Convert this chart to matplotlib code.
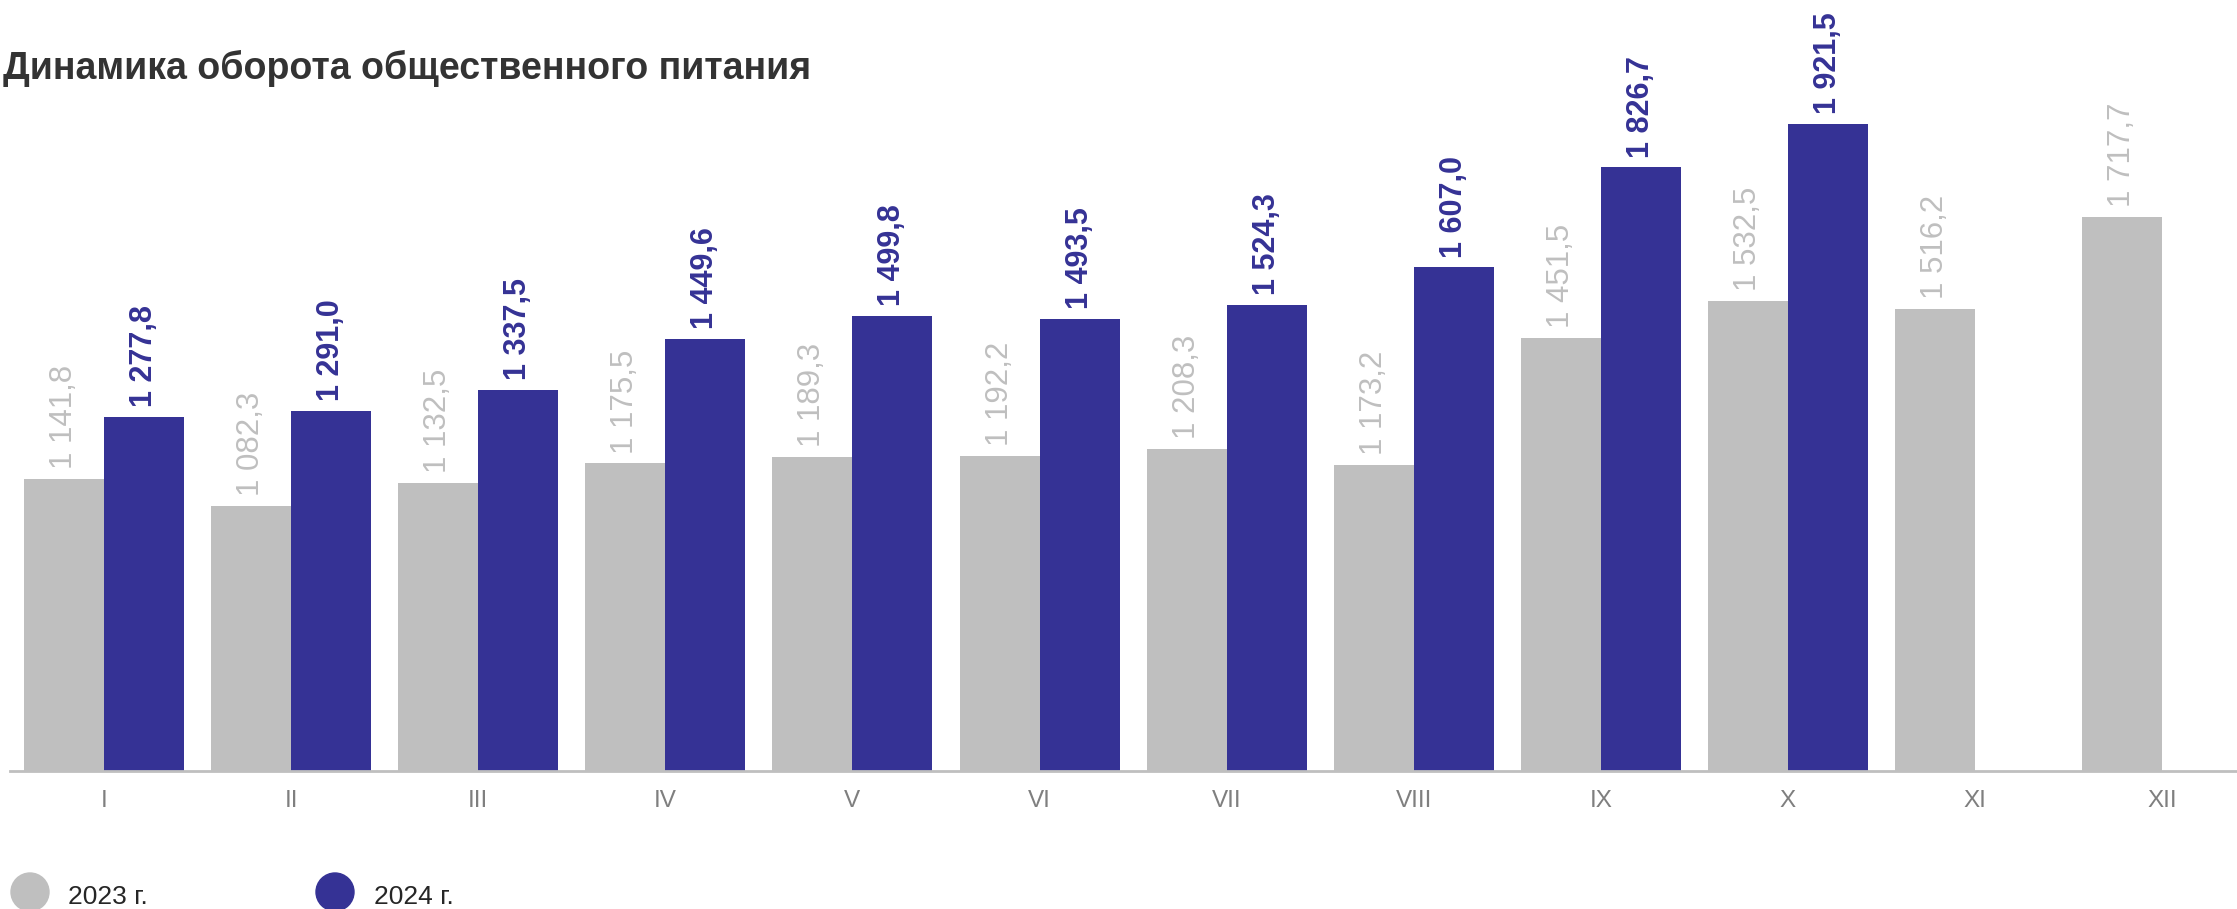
import matplotlib
matplotlib.use("Agg")
import matplotlib.pyplot as plt
from matplotlib.patches import Ellipse

plt.rcParams['font.family'] = ['Liberation Sans', 'DejaVu Sans']

months = ["I", "II", "III", "IV", "V", "VI", "VII", "VIII", "IX", "X", "XI", "XII"]
values_2023 = [1141.8, 1082.3, 1132.5, 1175.5, 1189.3, 1192.2, 1208.3, 1173.2,
               1451.5, 1532.5, 1516.2, 1717.7]
values_2024 = [1277.8, 1291.0, 1337.5, 1449.6, 1499.8, 1493.5, 1524.3, 1607.0,
               1826.7, 1921.5]
series_names = ["2023 г.", "2024 г."]

GRAY = "#bfbfbf"
BLUE = "#353295"
W, H = 2237, 909


def fmt(v):
    return f"{v:,.1f}".replace(",", " ").replace(".", ",")


fig = plt.figure(figsize=(W / 100, H / 100), dpi=100)
ax = fig.add_axes([10 / W, (H - 770.7) / H, (W - 10) / W, 670.7 / H])

width = 0.4276
x23 = range(len(values_2023))
x24 = range(len(values_2024))

ax.bar([x - width for x in x23], values_2023, width=width, align="edge", color=GRAY)
ax.bar(list(x24), values_2024, width=width, align="edge", color=BLUE)

for x, v in zip(x23, values_2023):
    ax.annotate(fmt(v), (x - width / 2, v), xytext=(0, 7), textcoords="offset points",
                rotation=90, ha="center", va="bottom", fontsize=22.5, color=GRAY,
                annotation_clip=False)
for x, v in zip(x24, values_2024):
    ax.annotate(fmt(v), (x + width / 2, v), xytext=(0, 7), textcoords="offset points",
                rotation=90, ha="center", va="bottom", fontsize=22, color=BLUE,
                fontweight="bold", annotation_clip=False)

ax.set_xlim(-0.5024, 11.40)
ax.set_ylim(500, 1974.7)
ax.set_xticks(range(len(months)))
ax.set_xticklabels(months, fontsize=17.5, color="#7f7f7f")
ax.tick_params(axis="x", length=0, pad=14)
ax.set_yticks([])
for s in ["top", "right", "left"]:
    ax.spines[s].set_visible(False)
ax.spines["bottom"].set_color(GRAY)
ax.spines["bottom"].set_linewidth(2)

fig.text(3 / W, (H - 79) / H, "Динамика оборота общественного питания",
         fontsize=27, fontweight="bold", color="#333333", va="baseline", ha="left")

# legend
for cx, tx, name, col in [(30, 68, series_names[0], GRAY), (335, 374, series_names[1], BLUE)]:
    fig.add_artist(Ellipse((cx / W, (H - 892) / H), 38 / W, 38 / H,
                           transform=fig.transFigure, color=col))
    fig.text(tx / W, (H - 904) / H, name, fontsize=19, color="#262626",
             va="baseline", ha="left")

fig.savefig("out.png", dpi=100)
